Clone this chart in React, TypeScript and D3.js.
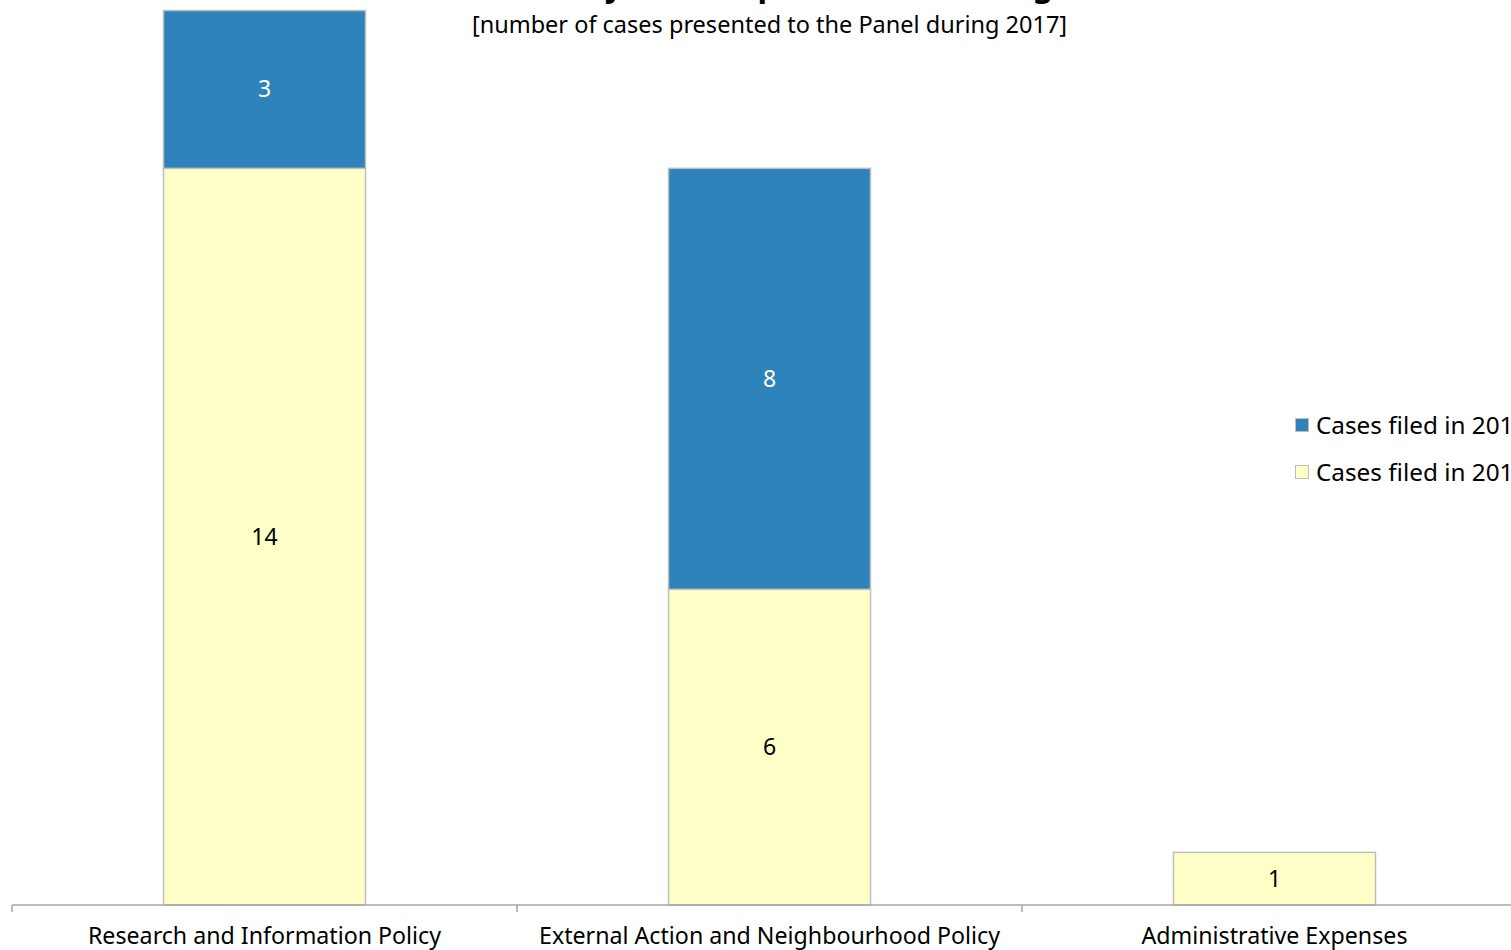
import React from "react";
import * as d3 from "d3";

const categories = [
  "Research and Information Policy",
  "External Action and Neighbourhood Policy",
  "Administrative Expenses",
];
const seriesNames = ["Cases filed in 2016", "Cases filed in 2017"];
const filed2016 = [14, 6, 1];
const filed2017 = [3, 8, 0];
const seriesColors = ["#FFFFC8", "#2E83BA"];
const labelColors = ["#000000", "#FFFFFF"];
const title = "Cases by main expenditure heading";
const subtitle = "[number of cases presented to the Panel during 2017]";

const W = 1511;
const H = 950;
const FONT = "'Noto Sans', 'DejaVu Sans', sans-serif";

export default function App() {
  const x = d3.scaleBand<string>().domain(categories).range([12, 1527]).padding(0);
  const y = d3.scaleLinear().domain([0, 17]).range([905, 10.5]);
  const rows = categories.map((c, i) => ({ cat: c, s0: filed2016[i], s1: filed2017[i] }));
  const stack = d3.stack<any>().keys(["s0", "s1"]);
  const layers = stack(rows);
  const bw = x.bandwidth() * 0.4;
  const ticks = [...categories.map((c) => x(c)!), 1527];

  return (
    <svg
      width={W}
      height={H}
      style={{ position: "absolute", left: 0, top: 0, background: "#fff" }}
      fontFamily={FONT}
    >
      <text x={769.5} y={-4.5} textAnchor="middle" fontSize={32} fontWeight="bold" fill="#000">
        {title}
      </text>
      <text x={769.5} y={33} textAnchor="middle" fontSize={23.5} fill="#000">
        {subtitle}
      </text>
      {layers.map((layer, li) => (
        <g key={li}>
          {layer.map((d, i) => {
            const v = d[1] - d[0];
            if (v <= 0) return null;
            const cx = x(categories[i])! + x.bandwidth() / 2;
            const y0 = y(d[0]);
            const y1 = y(d[1]);
            return (
              <g key={i}>
                <rect
                  x={cx - bw / 2}
                  y={y1}
                  width={bw}
                  height={y0 - y1}
                  fill={seriesColors[li]}
                  stroke="#BFBFBF"
                  strokeWidth={1.5}
                />
                <text
                  x={cx}
                  y={(y0 + y1) / 2}
                  dy="0.35em"
                  textAnchor="middle"
                  fontSize={23}
                  fill={labelColors[li]}
                >
                  {v}
                </text>
              </g>
            );
          })}
        </g>
      ))}
      <line x1={12} x2={1527} y1={905} y2={905} stroke="#A6A6A6" strokeWidth={1.5} />
      {ticks.map((t, i) => (
        <line key={i} x1={t} x2={t} y1={905} y2={912} stroke="#A6A6A6" strokeWidth={1.5} />
      ))}
      {categories.map((c) => (
        <text
          key={c}
          x={x(c)! + x.bandwidth() / 2}
          y={944}
          textAnchor="middle"
          fontSize={23.2}
          fill="#000"
        >
          {c}
        </text>
      ))}
      {[1, 0].map((si, k) => (
        <g key={si} transform={`translate(1295, ${418 + k * 47})`}>
          <rect x={0.5} y={0.5} width={13} height={13} fill={seriesColors[si]} stroke="#BFBFBF" strokeWidth={1} />
          <text x={21} y={7} dy="0.35em" fontSize={24.3} fill="#000">
            {seriesNames[si]}
          </text>
        </g>
      ))}
    </svg>
  );
}
